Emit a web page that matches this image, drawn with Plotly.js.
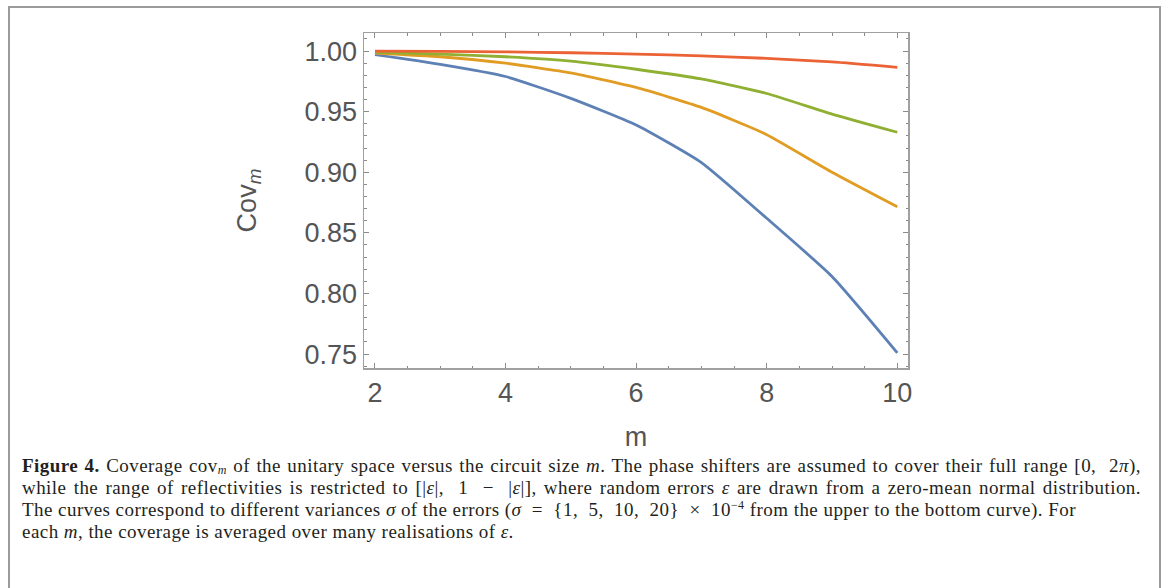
<!DOCTYPE html>
<html>
<head>
<meta charset="utf-8">
<script src="https://cdn.plot.ly/plotly-3.0.1.min.js"></script>
<style>
  html, body { margin: 0; padding: 0; width: 1168px; height: 588px; overflow: hidden; background: #fff; }
  #frame { position: absolute; left: 8px; top: 6px; width: 1153px; height: 640px; border: 2px solid #9b9b9b; box-sizing: border-box; }
  #chart { position: absolute; left: 0; top: 0; width: 1168px; height: 588px; }
  #caption { position: absolute; left: 22px; top: 455px; width: 1119px; font-family: "Liberation Serif", "DejaVu Serif", serif; font-size: 19px; letter-spacing: 0.45px; line-height: 22px; color: #231f20; z-index: 5; white-space: nowrap; }
  #caption .ln { display: block; height: 22px; }
  #caption .j { text-align: justify; text-align-last: justify; white-space: normal; }
  #caption sub { font-size: 12px; line-height: 0; vertical-align: -2px; }
  #caption sup { font-size: 12px; line-height: 0; vertical-align: 7px; }
</style>
</head>
<body>
<div id="chart"></div>
<div id="frame"></div>
<div id="caption">
<div class="ln j"><b>Figure 4.</b> Coverage cov<sub><i>m</i></sub> of the unitary space versus the circuit size <i>m</i>. The phase shifters are assumed to cover their full range [0,&nbsp; 2<i>π</i>),</div>
<div class="ln j">while the range of reflectivities is restricted to [|<i>ε</i>|,&nbsp; 1 &nbsp;−&nbsp; |<i>ε</i>|], where random errors <i>ε</i> are drawn from a zero-mean normal distribution.</div>
<div class="ln">The curves correspond to different variances <i>σ</i> of the errors (<i>σ</i> &nbsp;=&nbsp; {1,&nbsp; 5,&nbsp; 10,&nbsp; 20} &nbsp;×&nbsp; 10<sup>−4</sup> from the upper to the bottom curve). For</div>
<div class="ln">each <i>m</i>, the coverage is averaged over many realisations of <i>ε</i>.</div>
</div>
<script>
// circuit size m
const m = [2, 3, 4, 5, 6, 7, 8, 9, 10];
// coverage for sigma = 20e-4, 10e-4, 5e-4, 1e-4
const cov_sigma20 = [0.997, 0.989, 0.979, 0.961, 0.939, 0.908, 0.862, 0.814, 0.751];
const cov_sigma10 = [0.9984, 0.9953, 0.990, 0.982, 0.970, 0.9535, 0.931, 0.900, 0.8715];
const cov_sigma5  = [0.999, 0.9975, 0.9953, 0.9917, 0.985, 0.977, 0.965, 0.948, 0.933];
const cov_sigma1  = [1.000, 0.9998, 0.9993, 0.9986, 0.9975, 0.996, 0.994, 0.991, 0.9865];
const seriesNames = ["σ = 20×10⁻⁴", "σ = 10×10⁻⁴", "σ = 5×10⁻⁴", "σ = 1×10⁻⁴"];
const colors = ["#5E81B5", "#E19C24", "#8FB032", "#EB6235"];
const xTicks = [2, 4, 6, 8, 10];
const yTicks = [0.75, 0.80, 0.85, 0.90, 0.95, 1.00];

const ys = [cov_sigma20, cov_sigma10, cov_sigma5, cov_sigma1];
const traces = ys.map((y, i) => ({
  x: m, y: y, type: "scatter", mode: "lines", name: seriesNames[i],
  line: { color: colors[i], width: 2.8, shape: "spline", smoothing: 0.5 }, hoverinfo: "x+y"
}));

const axisCommon = {
  showline: true, linecolor: "#a0a0a0", linewidth: 1.5, mirror: "allticks",
  ticks: "inside", ticklen: 5, tickwidth: 1, tickcolor: "#8a8a8a",
  showgrid: false, zeroline: false,
  tickfont: { family: "Liberation Sans, Arial, sans-serif", size: 27, color: "#555555" }
};

const layout = {
  width: 1168, height: 588,
  margin: { l: 364, r: 260, t: 33, b: 220 },
  paper_bgcolor: "rgba(0,0,0,0)", plot_bgcolor: "#ffffff",
  showlegend: false,
  xaxis: Object.assign({}, axisCommon, {
    range: [1.832, 10.164], tickvals: xTicks, ticktext: xTicks.map(String),
    minor: { dtick: 0.5, tick0: 0, ticks: "inside", ticklen: 2.5, tickcolor: "#8a8a8a", tickwidth: 1, showgrid: false },
    title: { text: "m", standoff: 20, font: { family: "Liberation Sans, Arial, sans-serif", size: 27, color: "#555555" } }
  }),
  yaxis: Object.assign({}, axisCommon, {
    range: [0.7385, 1.0149], tickvals: yTicks, ticktext: yTicks.map(v => v.toFixed(2)),
    minor: { dtick: 0.01, tick0: 0, ticks: "inside", ticklen: 2.5, tickcolor: "#8a8a8a", tickwidth: 1, showgrid: false },
    title: { text: "Cov<sub><i>m</i></sub>", standoff: 40, font: { family: "Liberation Sans, Arial, sans-serif", size: 27, color: "#555555" } }
  })
};

Plotly.newPlot("chart", traces, layout, { displayModeBar: false, staticPlot: true });
</script>
</body>
</html>
